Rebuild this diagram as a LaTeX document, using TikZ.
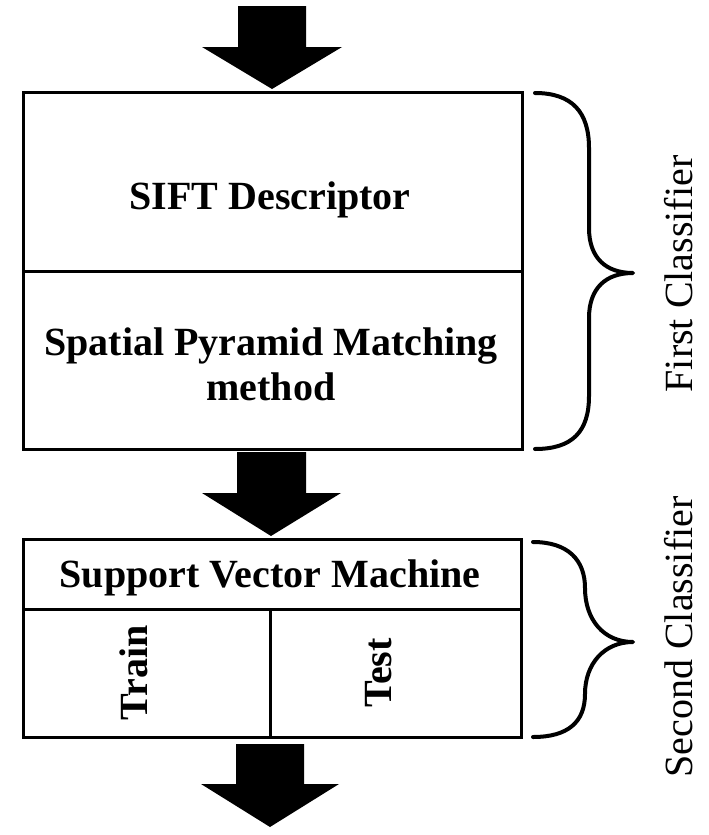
\documentclass[tikz,border=0pt]{standalone}
\usepackage{fontspec}
\setmainfont{Liberation Serif}
\begin{document}
\begin{tikzpicture}[x=1pt,y=-1pt,
  boxstyle/.style={draw=black,line width=3pt,inner sep=0pt,outer sep=0pt},
  divline/.style={draw=black,line width=3pt},
  boldlabel/.style={font=\fontsize{40}{45}\selectfont\bfseries,inner sep=0pt,anchor=base},
  sidelabel/.style={font=\fontsize{40}{45}\selectfont,inner sep=0pt,anchor=base,rotate=90},
  bracestyle/.style={draw=black,line width=4pt,line cap=round,line join=round},
  blockarrow/.style={fill=black}]
\useasboundingbox (0,0) rectangle (709,835);
\fill[white] (0,0) rectangle (709,835);

% boxes
\node[boxstyle,minimum width=499pt,minimum height=357pt] (b1) at (272.5,270.5) {};
\node[boxstyle,minimum width=498pt,minimum height=198pt] (b2) at (272,638) {};

\coordinate (d1l) at (b1.west |- 0,271);
\coordinate (d1r) at (b1.east |- 0,271);
\draw[divline] (d1l) -- (d1r);
\coordinate (d2l) at (b2.west |- 0,609);
\coordinate (d2r) at (b2.east |- 0,609);
\draw[divline] (d2l) -- (d2r);
\coordinate (d2t) at (270,609);
\coordinate (d2b) at (b2.south -| 270,0);
\draw[divline] (d2t) -- (d2b);

% texts
\node[boldlabel] (sift) at (270,209) {SIFT Descriptor};
\node[boldlabel] (spm) at (271,355) {Spatial Pyramid Matching};
\node[boldlabel] (spm2) at (271,400) {method};
\node[boldlabel] (svm) at (270,587) {Support Vector Machine};
\node[boldlabel,rotate=90] (train) at (147,673) {Train};
\node[boldlabel,rotate=90] (test) at (391,673) {Test};

% side labels
\node[sidelabel] (first) at (692,274) {First Classifier};
\node[sidelabel] (second) at (692,637) {Second Classifier};

% block arrows
\fill[blockarrow] (238,6) -- (306,6) -- (306,47) -- (342,47) -- (272,89) -- (202,47) -- (238,47) -- cycle;
\fill[blockarrow] (237,452) -- (306,452) -- (306,493) -- (341,493) -- (271,536) -- (202,493) -- (237,493) -- cycle;
\fill[blockarrow] (236,744) -- (304,744) -- (304,784) -- (339,784) -- (270,827) -- (201,784) -- (236,784) -- cycle;

% braces
\draw[bracestyle] (535,93) .. controls (572,93) and (589,112) .. (589,148)
  -- (589,228) .. controls (589,258) and (606,273) .. (633,273)
  .. controls (606,273) and (589,288) .. (589,318)
  -- (589,396) .. controls (589,432) and (572,449) .. (535,449);
\draw[bracestyle] (533,542) .. controls (568,542) and (585,560) .. (585,588)
  .. controls (585,620) and (604,642) .. (633,642)
  .. controls (604,642) and (585,664) .. (585,694)
  .. controls (585,722) and (568,737) .. (533,737);
\end{tikzpicture}
\end{document}
